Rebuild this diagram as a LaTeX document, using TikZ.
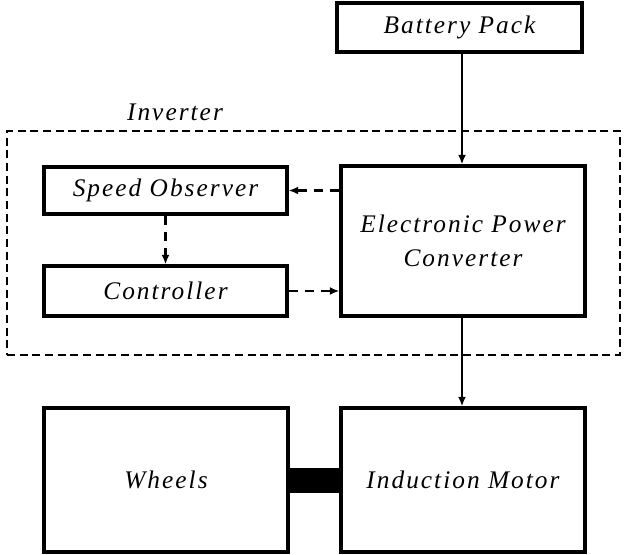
\documentclass[tikz,border=0pt]{standalone}
\usepackage{fontspec}
\setmainfont{Liberation Serif}[LetterSpace=8]
\usetikzlibrary{arrows.meta}
\begin{document}
\begin{tikzpicture}[x=0.75pt,y=-0.75pt,
  txt/.style={font=\fontsize{19}{23}\selectfont\itshape},
  blk/.style={txt,draw,line width=2.6pt,inner sep=0pt},
  arr/.style={line width=1.6pt,-{Latex[length=7pt,width=6pt]}},
  darr/.style={arr,dash pattern=on 7pt off 5pt}]
\useasboundingbox (0,0) rectangle (624,555);
\node[blk,minimum width=183.75pt,minimum height=36.75pt] (bat) at (459.5,27.5) {Battery Pack};
\node[draw,dash pattern=on 6pt off 3.5pt,line width=1.6pt,minimum width=459.75pt,minimum height=168pt,inner sep=0pt] (inv) at (313.5,243) {};
\node[txt] (invl) at (175,112) {Inverter};
\node[blk,minimum width=182.25pt,minimum height=35.25pt] (so) at (165.5,190.5) {Speed Observer};
\node[blk,minimum width=182.25pt,minimum height=37.5pt] (ctrl) at (165.5,291) {Controller};
\node[blk,minimum width=183pt,minimum height=112.5pt,align=center] (epc) at (463,241) {Electronic Power\\[2pt]Converter};
\node[blk,minimum width=183pt,minimum height=108pt] (wh) at (166,480) {Wheels};
\node[blk,minimum width=183pt,minimum height=108pt] (im) at (463,480) {Induction Motor};
\draw[line width=18.75pt] (wh.east) -- (im.west);
\draw[arr] (bat.south -| 462,0) -- (epc.north -| 462,0);
\draw[arr] (epc.south -| 462,0) -- (im.north -| 462,0);
\draw[darr] (epc.west |- so.east) -- (so.east);
\draw[darr] (so.south) -- (ctrl.north);
\draw[darr] (ctrl.east) -- (epc.west |- ctrl.east);
\end{tikzpicture}
\end{document}
